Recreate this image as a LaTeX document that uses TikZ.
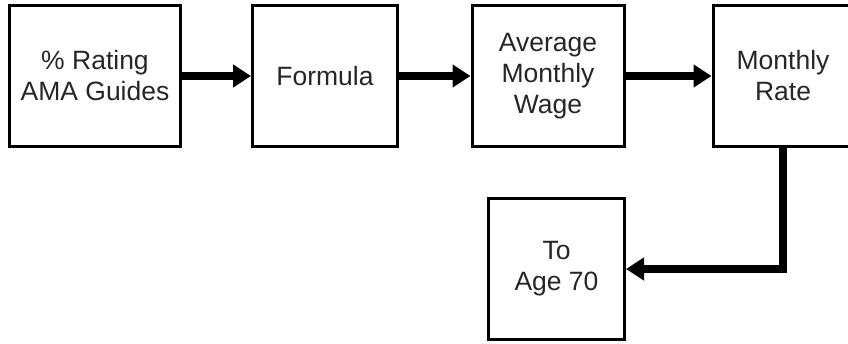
\documentclass[tikz,border=0pt]{standalone}
\usepackage{fontspec}
\setmainfont{Liberation Sans}
\usetikzlibrary{arrows.meta}
\begin{document}
\begin{tikzpicture}[x=1pt,y=-1pt,
  stage/.style={draw, line width=3pt, align=center, inner sep=0pt,
    minimum height=141pt, text=black!85, font=\fontsize{26.5}{31}\selectfont},
  flow/.style={line width=8pt, -{Triangle[length=18pt,width=22pt]}}]
\useasboundingbox (0,0) rectangle (848,343);
\node[stage, minimum width=171pt] (rating)  at (95,76)   {\% Rating\\AMA Guides};
\node[stage, minimum width=145pt] (formula) at (325,76)  {Formula};
\node[stage, minimum width=152pt] (wage)    at (548,76)  {Average\\Monthly\\Wage};
\node[stage, minimum width=140pt] (rate)    at (783,76)  {Monthly\\Rate};
\node[stage, minimum width=136pt] (age)     at (556.5,269) {To\\Age 70};
\draw[flow] (rating) -- (formula);
\draw[flow] (formula) -- (wage);
\draw[flow] (wage) -- (rate);
\draw[flow] (rate.south) |- (age.east);
\end{tikzpicture}
\end{document}
